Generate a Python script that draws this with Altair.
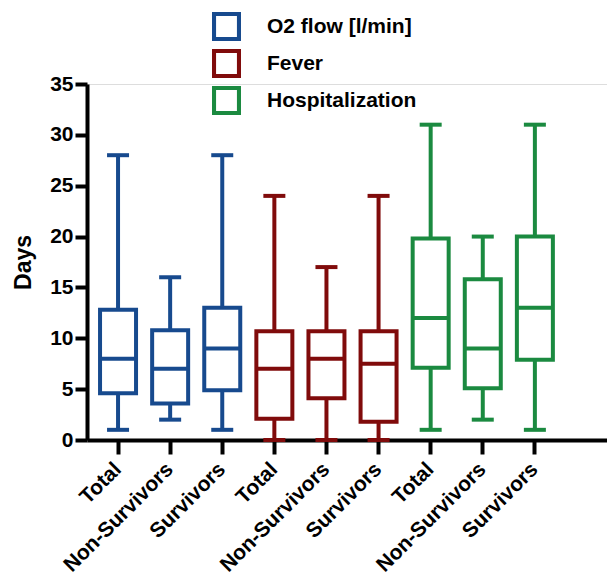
import altair as alt
import pandas as pd

groups = ["O2 flow [l/min]"] * 3 + ["Fever"] * 3 + ["Hospitalization"] * 3
subgroups = ["Total", "Non-Survivors", "Survivors"] * 3
mins = [1, 2, 1, 0, 0, 0, 1, 2, 1]
q1s = [4.6, 3.6, 4.9, 2.1, 4.1, 1.8, 7.1, 5.1, 7.9]
medians = [8, 7, 9, 7, 8, 7.5, 12, 9, 13]
q3s = [12.8, 10.8, 13.0, 10.7, 10.7, 10.7, 19.8, 15.8, 20.0]
maxs = [28, 16, 28, 24, 17, 24, 31, 20, 31]

group_order = ["O2 flow [l/min]", "Fever", "Hospitalization"]
colors = ["#174a8e", "#800b0b", "#1b8a40"]

keys = [f"{i}|{s}" for i, s in enumerate(subgroups)]
df = pd.DataFrame({
    "key": keys, "group": groups, "sub": subgroups,
    "min": mins, "q1": q1s, "median": medians, "q3": q3s, "max": maxs,
})

FONT = "Liberation Sans"
# hollow square outline as a filled symbol path (outer minus inner)
HOLLOW_SQUARE = "M-1,-1H1V1H-1Z M-0.72,-0.72V0.72H0.72V-0.72Z"

x_enc = alt.X(
    "key:N", sort=keys,
    scale=alt.Scale(paddingInner=0.3, paddingOuter=0.64, align=0.192),
    axis=alt.Axis(
        title=None, labelExpr="split(datum.label, '|')[1]", labelAngle=-45,
        labelAlign="right", labelBaseline="middle", labelFont=FONT,
        labelFontWeight="bold", labelFontSize=21, labelColor="black",
        tickSize=14, tickWidth=4, tickColor="black", domainWidth=4,
        domainColor="black", labelPadding=12, labelOverlap=False,
    ),
)
y_scale = alt.Scale(domain=[0, 35], nice=False)
y_axis = alt.Axis(
    title="Days", values=[0, 5, 10, 15, 20, 25, 30, 35], grid=False,
    labelFont=FONT, labelFontWeight="bold", labelFontSize=21, labelColor="black",
    titleFont=FONT, titleFontWeight="bold", titleFontSize=23, titleColor="black",
    tickSize=12, tickWidth=4, tickColor="black", domainWidth=4, domainColor="black",
    labelPadding=2, titlePadding=14,
)
legend = alt.Legend(
    title=None, orient="none", legendX=125, legendY=-72,
    symbolType=HOLLOW_SQUARE, symbolSize=840, symbolStrokeWidth=0,
    labelFont=FONT, labelFontWeight="bold",
    labelFontSize=21, labelColor="black", labelOffset=26, rowPadding=8,
    padding=0,
)
color = alt.Color("group:N", scale=alt.Scale(domain=group_order, range=colors),
                  sort=group_order, legend=legend)

base = alt.Chart(df)

box = base.mark_bar(size=36, filled=False, strokeWidth=4, opacity=1).encode(
    x=x_enc, y=alt.Y("q1:Q", scale=y_scale, axis=y_axis), y2="q3:Q", color=color,
)
whisk_lo = base.mark_rule(strokeWidth=4).encode(
    x=x_enc, y=alt.Y("min:Q", scale=y_scale), y2="q1:Q", color=color,
)
whisk_hi = base.mark_rule(strokeWidth=4).encode(
    x=x_enc, y=alt.Y("q3:Q", scale=y_scale), y2="max:Q", color=color,
)
med = base.mark_tick(size=36, thickness=4, orient="horizontal", opacity=1).encode(
    x=x_enc, y=alt.Y("median:Q", scale=y_scale), color=color,
)
cap_lo = base.mark_tick(size=22, thickness=4, orient="horizontal", opacity=1).encode(
    x=x_enc, y=alt.Y("min:Q", scale=y_scale), color=color,
)
cap_hi = base.mark_tick(size=22, thickness=4, orient="horizontal", opacity=1).encode(
    x=x_enc, y=alt.Y("max:Q", scale=y_scale), color=color,
)

chart = alt.layer(box, whisk_lo, whisk_hi, med, cap_lo, cap_hi).properties(
    width=520, height=356,
    autosize=alt.AutoSizeParams(type="none"),
    padding={"left": 79, "top": 76, "right": 0, "bottom": 135},
).configure_view(stroke=None).configure(background="white")

chart.save("out.html", embed_options={"renderer": "svg", "actions": False})
